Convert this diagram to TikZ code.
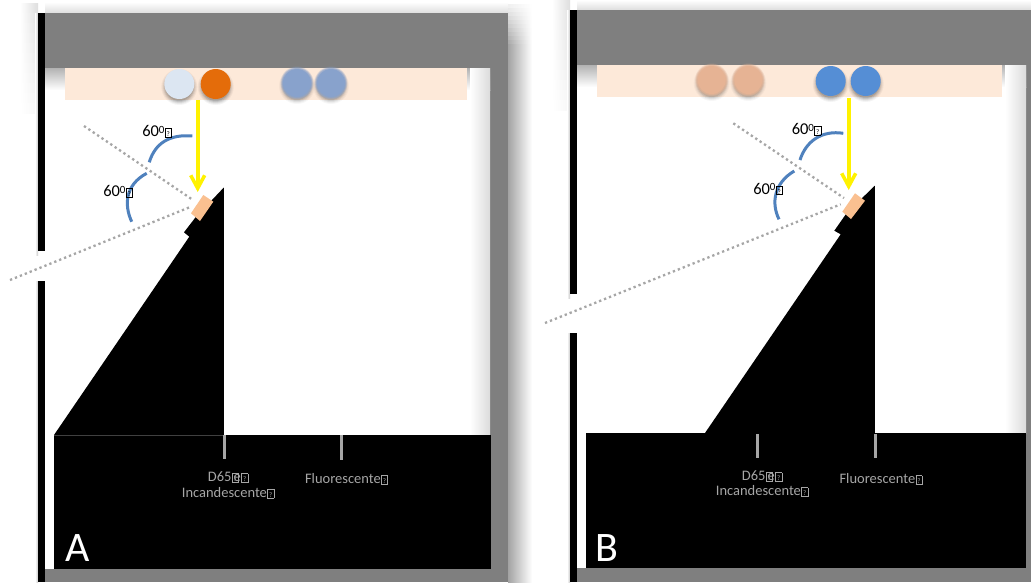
\documentclass[tikz,border=0pt]{standalone}
\usepackage{fontspec}
\setmainfont{Carlito}
\usetikzlibrary{arrows.meta}
\definecolor{frameg}{HTML}{7F7F7F}
\definecolor{bandc}{HTML}{FDE9D9}
\definecolor{arcb}{HTML}{4F81BD}
\definecolor{peach}{HTML}{FAC090}
\definecolor{tickg}{HTML}{A6A6A6}
\definecolor{lightc}{HTML}{DCE6F2}
\definecolor{orangec}{HTML}{E46C0A}
\definecolor{grayblue}{HTML}{88A2CC}
\definecolor{blobc}{HTML}{E6B394}
\definecolor{bluec}{HTML}{558ED5}
\newcommand{\tofu}{\smash{\kern.4pt\fboxsep=0.4pt\fboxrule=0.5pt\fbox{\rule{0pt}{7.6pt}\makebox[5pt]{\fontsize{7}{7}\selectfont ?}}}}
\newcommand{\sixty}{60\raisebox{3.5pt}{\fontsize{11}{11}\selectfont 0}\tofu}
\newcommand{\softdisc}[4]{%
  \foreach \r/\o in {18/.04,17/.05,16/.07,15/.09,14/.11}{\fill[black,opacity=\o] (#1,#2+3) circle[radius=\r];}
  \node[discnode,fill=#3] (#4) at (#1,#2) {};}
\newcommand{\blurdisc}[4]{%
  \foreach \r/\o in {18/.03,17/.04,16/.06,15/.08,14/.09}{\fill[black,opacity=\o] (#1,#2+3) circle[radius=\r];}
  \foreach \r/\o in {16.5/.25,15.7/.35,15/.5}{\fill[#3,opacity=\o] (#1,#2) circle[radius=\r];}
  \node[discnode,minimum size=28pt,fill=#3] (#4) at (#1,#2) {};}
\tikzset{
  x=1pt,y=-1pt,
  framefill/.style={fill=frameg,draw=none},
  blackfill/.style={fill=black,draw=none},
  discnode/.style={circle,draw=none,minimum size=30pt,inner sep=0pt},
  yarrow/.style={draw=yellow,line width=4pt,-{Straight Barb[length=13pt,width=14pt,line width=3.5pt]}},
  dotline/.style={draw=tickg,line width=2.3pt,dash pattern=on 2.3pt off 3pt},
  arcline/.style={draw=arcb,line width=3pt},
  ticks/.style={fill=tickg,draw=none},
  lab/.style={text=tickg,font=\fontsize{14.5}{15}\selectfont,inner sep=0pt,align=center},
  anglab/.style={text=black,font=\fontsize{16.5}{16.5}\selectfont,inner sep=0pt},
  panel/.style={text=white,font=\fontsize{42}{42}\selectfont,inner sep=0pt},
  sh/.style={draw=none},
}
\begin{document}
\begin{tikzpicture}
\useasboundingbox (0,0) rectangle (1031,582);
\fill[white] (0,0) rectangle (1031,582);
% ---- outer shadows A
\shade[sh,top color=white,bottom color=black!13] (45,2) rectangle (508,13);
\foreach \i/\k in {0/6,1/9,2/12,3/15,4/18,5/21,6/24,7/27,8/30,9/33}{
  \shade[sh,left color=black!\k,right color=white] (508,4+\i*4) rectangle (532,8.2+\i*4);}
\shade[sh,left color=black!36,right color=white] (508,44) rectangle (532,582);
\foreach \i/\k in {0/13,1/12,2/11,3/10,4/9,5/8,6/7,7/6,8/5,9/4,10/3}{
  \shade[sh,left color=white,right color=black!\k] (20,3+\i*10) rectangle (38,13.2+\i*10);}
\shade[sh,left color=white,right color=black!22] (35,13) rectangle (38,255);
\shade[sh,left color=white,right color=black!22] (35,281) rectangle (38,582);
% ---- outer shadows B
\shade[sh,top color=white,bottom color=black!13] (577,0) rectangle (1031,10);
\foreach \i/\k in {0/13,1/12,2/11,3/10,4/9,5/8,6/7,7/6,8/5,9/4,10/3}{
  \shade[sh,left color=white,right color=black!\k] (552,0+\i*10) rectangle (570,10.2+\i*10);}
\shade[sh,left color=white,right color=black!22] (567,10) rectangle (570,298);
\shade[sh,left color=white,right color=black!22] (567,333) rectangle (570,582);
% ---- panel A frame
\fill[framefill] (45,13) rectangle (508,68);
\fill[framefill] (490,68) rectangle (508,582);
\fill[framefill] (45,569) rectangle (490,582);
\shade[sh,top color=black!30,bottom color=white] (45,68) rectangle (490,90);
\shade[sh,left color=white,right color=black!14] (470,90) rectangle (490,435);
\shade[sh,left color=white,right color=black!14] (470,68) rectangle (490,90);
\fill[blackfill] (38,13) rectangle (45,251);
\fill[blackfill] (38,281) rectangle (45,582);
\fill[bandc] (65,68) rectangle (467,100);
\fill[blackfill] (54,435) rectangle (491,569);
\fill[blackfill] (54,435) -- (189.3,236.7) -- (184,232.3) -- (195,218) -- (223.8,187.5) -- (223.8,435) -- cycle;
\draw[black!75,line width=.6pt] (54,435) -- (224,435);
\fill[peach] (203.3,195) -- (213.3,201.7) -- (200,221) -- (191,213.3) -- cycle;
% discs A
\softdisc{179.3}{84}{lightc}{a1}
\softdisc{215.7}{84}{orangec}{a2}
\blurdisc{297}{83}{grayblue}{a3}
\blurdisc{331}{83}{grayblue}{a4}
% lines A
\coordinate (aS) at (197.7,100);
\coordinate (aE) at (197.7,192);
\draw[yarrow] (aS) -- (aE);
\coordinate (ad1) at (84,126); \coordinate (ad2) at (193,200);
\coordinate (ad3) at (10,280); \coordinate (ad4) at (191,206.7);
\draw[dotline] (ad1) -- (ad2);
\draw[dotline] (ad3) -- (ad4);
\draw[arcline] (192.3,136) .. controls (170,134) and (155,143) .. (149.3,162.3);
\draw[arcline] (146.7,173.3) .. controls (125,185) and (124,205) .. (131.7,221.7);
\node[anglab] (at1) at (157,131) {\sixty};
\node[anglab] (at2) at (118,191) {\sixty};
% ticks A
\fill[ticks] (222.5,435) rectangle (225.5,459);
\fill[ticks] (339.5,435) rectangle (342.8,460);
\node[lab] (al1) at (228,477) {D65\tofu\kern-5pt e\tofu};
\node[lab] (al2) at (228,492.5) {Incandescente\tofu};
\node[lab] (al3) at (346.5,479) {Fluorescente\tofu};
\node[panel] (aP) at (78,548) {A};
% ---- panel B frame
\fill[framefill] (577,10) rectangle (1031,65);
\fill[framefill] (1026,65) rectangle (1031,582);
\fill[framefill] (577,568) rectangle (1031,582);
\shade[sh,top color=black!30,bottom color=white] (577,65) rectangle (1026,87);
\shade[sh,left color=white,right color=black!14] (1005,87) rectangle (1026,433);
\shade[sh,left color=white,right color=black!14] (1005,65) rectangle (1026,87);
\fill[blackfill] (570,10) rectangle (577,294);
\fill[blackfill] (570,333) rectangle (577,582);
\fill[bandc] (597,65) rectangle (1002,97);
\fill[blackfill] (586,433) rectangle (1026,568);
\fill[blackfill] (705,433) -- (840.7,234.3) -- (834.3,230.7) -- (846.7,213) -- (874.8,185.7) -- (874.8,433) -- cycle;
\fill[peach] (855,193.3) -- (865,200.7) -- (851,219) -- (842.3,211.7) -- cycle;
\blurdisc{711.7}{80}{blobc}{b1}
\blurdisc{748.3}{80}{blobc}{b2}
\softdisc{830.7}{81}{bluec}{b3}
\softdisc{865.7}{81}{bluec}{b4}
\coordinate (bS) at (848.7,98);
\coordinate (bE) at (848.7,190);
\draw[yarrow] (bS) -- (bE);
\coordinate (bd1) at (733.3,123.3); \coordinate (bd2) at (844,198);
\coordinate (bd3) at (545,323); \coordinate (bd4) at (840.7,204.3);
\draw[dotline] (bd1) -- (bd2);
\draw[dotline] (bd3) -- (bd4);
\draw[arcline] (843.3,133.3) .. controls (822,130) and (806,141) .. (800,160);
\draw[arcline] (794.3,171) .. controls (774,183) and (771,203) .. (779,219.3);
\node[anglab] (bt1) at (806.5,129) {\sixty};
\node[anglab] (bt2) at (768,188.5) {\sixty};
\fill[ticks] (755.5,434) rectangle (758.8,458);
\fill[ticks] (873.5,434) rectangle (876.8,458);
\node[lab] (bl1) at (762,476) {D65\tofu\kern-5pt e\tofu};
\node[lab] (bl2) at (762,491) {Incandescente\tofu};
\node[lab] (bl3) at (881,479) {Fluorescente\tofu};
\node[panel] (bP) at (607,548) {B};
\end{tikzpicture}
\end{document}
